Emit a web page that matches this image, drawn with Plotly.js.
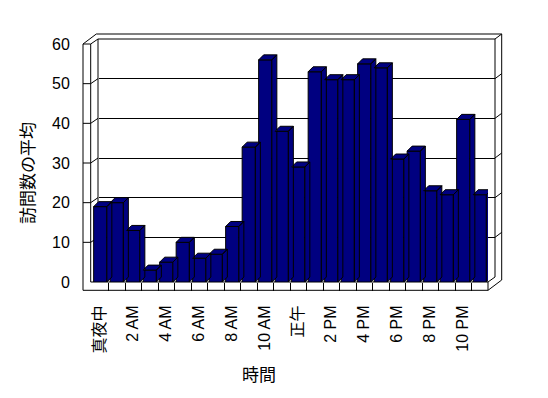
<!DOCTYPE html>
<html>
<head>
<meta charset="utf-8">
<script src="https://cdn.plot.ly/plotly-3.0.1.min.js"></script>
<style>html,body{margin:0;padding:0;background:#fff;}#chart{width:548px;height:398px;}</style>
</head>
<body>
<div id="chart"></div>
<script>
// ---- data ----
const categories = ['真夜中','1 AM','2 AM','3 AM','4 AM','5 AM','6 AM','7 AM','8 AM','9 AM','10 AM','11 AM',
                    '正午','1 PM','2 PM','3 PM','4 PM','5 PM','6 PM','7 PM','8 PM','9 PM','10 PM','11 PM'];
const visits = [19,20,13,3,5,10,6,7,14,34,56,38,29,53,51,51,55,54,31,33,23,22,41,22];
const yTicks = [0,10,20,30,40,50,60];
const gridVals = [10,20,30,40,50];
const yTitle = '訪問数の平均';
const xTitle = '時間';

// ---- geometry (pixels) ----
const W0 = 548, H0 = 398;
const L = 92, T = 39, R = 53, Bm = 116;
const PW = W0 - L - R, PH = H0 - T - Bm;   // plot area
const BOT = T + PH;                         // 282
const depthX = 7, depthY = 5;               // back wall offset
const frontW = PW - depthX, frontH = PH - depthY;
const yMax = 60;
const px = p => (p - L) / PW;
const py = p => (BOT - p) / PH;
const yF = v => BOT - v * frontH / yMax;
const yB = v => yF(v) - depthY;

const idx = categories.map((_, i) => i);
const slot = frontW / categories.length;
const barW = 0.8;
const ddx = 5 / slot, ddy = 5 * yMax / frontH;

// 3D faces of the bars (side + top), built from the data
const fx = [], fy = [];
visits.forEach((v, i) => {
  const xl = i - barW / 2, xr = i + barW / 2;
  fx.push(xr, xr + ddx, xr + ddx, xr, xr, null);
  fy.push(0, ddy, v + ddy, v, 0, null);
  fx.push(xl, xl + ddx, xr + ddx, xr, xl, null);
  fy.push(v, v + ddy, v + ddy, v, v, null);
});

const shapes = [];
function seg(x0, y0, x1, y1) {
  shapes.push({type:'line', xref:'paper', yref:'paper', layer:'below',
    x0:px(x0), y0:py(y0), x1:px(x1), y1:py(y1), line:{color:'#000', width:1}});
}
const xl0 = L - 1.3, xo = L - 9, xr0 = L + frontW, xBack = xr0 + depthX, xOut = xBack + 6.7;
// back wall
seg(L + depthX - 1, T, xBack, T);
seg(L + depthX - 1, T, L + depthX - 1, BOT - depthY);
seg(xBack, T, xBack, BOT - depthY);
seg(L + 4.3, T - 5, xOut, T - 5);
seg(xOut, T - 5, xOut, BOT - 2);
seg(xBack, T, xOut, T - 5);
// left wall
seg(xo, yF(60), xo, BOT + 8.3);
seg(xl0, yF(60), xl0, BOT);
seg(xo, yF(60), xl0, yF(60));
seg(xo, yF(60), L + 4.3, T - 5);
seg(xl0, yF(60), L + depthX - 1, T);
// floor
seg(xl0, BOT, xr0, BOT);
seg(xo, BOT + 8.3, xr0, BOT + 8.3);
seg(xr0, BOT, xr0, BOT + 8.3);
seg(xr0, BOT + 8.3, xOut, BOT - 2);
seg(xr0, BOT, xBack, BOT - depthY);
// wall tick marks at grid levels
gridVals.forEach(v => {
  seg(xo, yF(v), xl0, yF(v));
  seg(xl0, yF(v), L + depthX - 1, yB(v));
  seg(xBack, yB(v), xOut, yB(v) - 5);
});

const FONT = 'Liberation Sans, Noto Sans CJK JP, sans-serif';
const shownIdx = idx.filter(i => i % 2 === 0);

const data = [
  {type:'scatter', x:[0], y:[0], xaxis:'x', yaxis:'y', mode:'markers',
   marker:{opacity:0}, hoverinfo:'skip', showlegend:false},
  {type:'bar', x:idx, y:visits, width:barW, xaxis:'x2', yaxis:'y2',
   marker:{color:'#000080', line:{color:'#000', width:1}}, showlegend:false},
  {type:'scatter', x:fx, y:fy, xaxis:'x2', yaxis:'y2', mode:'lines', fill:'toself',
   fillcolor:'#000080', line:{color:'#000', width:1}, connectgaps:false,
   hoverinfo:'skip', showlegend:false}
];

const layout = {
  width:W0, height:H0,
  margin:{l:L, r:R, t:T, b:Bm, pad:0},
  paper_bgcolor:'#fff', plot_bgcolor:'rgba(0,0,0,0)',
  font:{family:FONT, size:16, color:'#000'},
  showlegend:false,
  xaxis:{domain:[depthX/PW, 1], range:[-0.5, 23.5], anchor:'y',
    showgrid:false, zeroline:false, showticklabels:false, ticks:'', showline:false},
  yaxis:{domain:[depthY/PH, 1], range:[0, yMax], anchor:'x',
    tickmode:'array', tickvals:gridVals, showgrid:true, gridcolor:'#000', gridwidth:1,
    zeroline:false, showticklabels:false, ticks:'', showline:false},
  xaxis2:{domain:[0, frontW/PW], range:[-0.5, 23.5], anchor:'y2',
    tickmode:'array', tickvals:shownIdx, ticktext:shownIdx.map(i => categories[i]),
    tickangle:-90, ticks:'outside', ticklen:16, tickcolor:'rgba(0,0,0,0)',
    minor:{tickmode:'array', tickvals:idx.slice(1).map(i => i - 0.5), ticks:'outside',
      ticklen:8, tickcolor:'#000', tickwidth:1, showgrid:false},
    showgrid:false, zeroline:false, showline:false, tickfont:{size:16, color:'#000'}},
  yaxis2:{domain:[0, frontH/PH], range:[0, yMax], anchor:'x2',
    tickmode:'array', tickvals:yTicks, ticks:'outside', ticklen:18, tickcolor:'rgba(0,0,0,0)',
    showgrid:false, zeroline:false, showline:false, tickfont:{size:16, color:'#000'}},
  shapes:shapes,
  annotations:[
    {text:yTitle, xref:'paper', yref:'paper', x:px(29), y:py(173), showarrow:false,
     textangle:-90, xanchor:'center', yanchor:'middle', font:{size:17}},
    {text:xTitle, xref:'paper', yref:'paper', x:px(259), y:py(375), showarrow:false,
     xanchor:'center', yanchor:'middle', font:{size:17}}
  ]
};

Plotly.newPlot('chart', data, layout, {staticPlot:true, displayModeBar:false});
</script>
</body>
</html>
